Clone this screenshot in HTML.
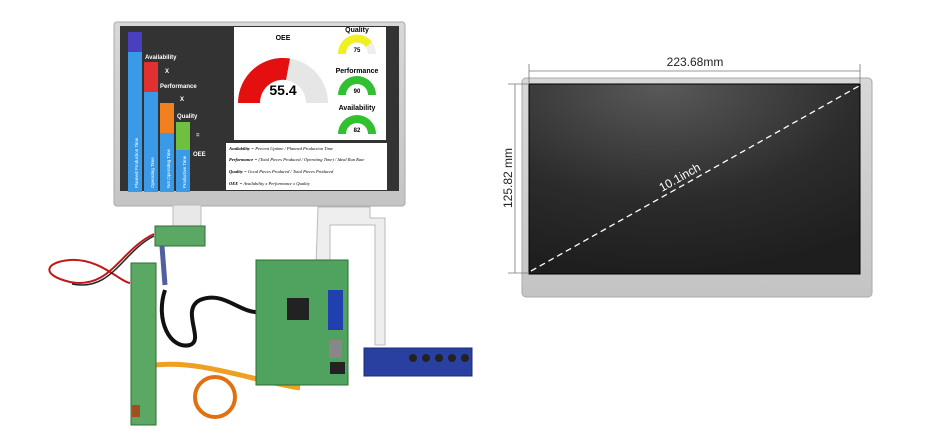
<!DOCTYPE html>
<html><head><meta charset="utf-8"><style>
html,body{margin:0;padding:0;background:#fff;}
svg{display:block;font-family:"Liberation Sans",sans-serif;}
</style></head><body>
<svg width="930" height="448" viewBox="0 0 930 448">
<defs>
<radialGradient id="scr" cx="0.4" cy="0" r="1"><stop offset="0" stop-color="#5a5a5a"/><stop offset="0.6" stop-color="#2c2c2c"/><stop offset="1" stop-color="#1e1e1e"/></radialGradient>
<linearGradient id="frm" x1="0" y1="0" x2="0" y2="1"><stop offset="0" stop-color="#d8d8d8"/><stop offset="1" stop-color="#c4c4c4"/></linearGradient>
</defs>
<!-- LEFT MONITOR -->
<rect x="114" y="22" width="291" height="184" rx="3" fill="url(#frm)" stroke="#aaa"/>
<rect x="120" y="26" width="279" height="165" fill="#333"/>
<rect x="234" y="27" width="152" height="113" fill="#fff"/>
<rect x="226" y="143" width="161" height="47" fill="#fff"/>
<!-- bars -->
<rect x="128" y="32" width="14" height="20" fill="#4a3fbf"/>
<rect x="128" y="52" width="14" height="140" fill="#3a9ae8"/>
<rect x="144" y="62" width="14" height="30" fill="#e03030"/>
<rect x="144" y="92" width="14" height="100" fill="#3a9ae8"/>
<rect x="160" y="103" width="14" height="30" fill="#f08020"/>
<rect x="160" y="133" width="14" height="59" fill="#3a9ae8"/>
<rect x="176" y="122" width="14" height="28" fill="#70c040"/>
<rect x="176" y="150" width="14" height="42" fill="#3a9ae8"/>
<g fill="#fff" font-size="4.5">
<text transform="translate(138,188) rotate(-90)">Planned Production Time</text>
<text transform="translate(154,188) rotate(-90)">Operating Time</text>
<text transform="translate(170,188) rotate(-90)">Net Operating Time</text>
<text transform="translate(186,188) rotate(-90)">Productive Time</text>
</g>
<g fill="#fff" font-size="6" font-weight="bold">
<text x="145" y="59">Availability</text><text x="165" y="73">X</text>
<text x="160" y="88">Performance</text><text x="180" y="101">X</text>
<text x="177" y="118">Quality</text><text x="196" y="137">=</text>
<text x="193" y="156">OEE</text></g>
<!-- OEE gauge -->
<text x="283" y="40" font-size="7" font-weight="bold" text-anchor="middle">OEE</text>
<path d="M238,103 A45,45 0 0 1 328,103 L306,103 A23,23 0 0 0 260,103 Z" fill="#e6e6e6"/>
<path d="M238,103 A45,45 0 0 1 290,58.5 L286,80 A23,23 0 0 0 260,103 Z" fill="#e41010"/>
<text x="283" y="95" font-size="14" font-weight="bold" text-anchor="middle">55.4</text>
<g font-size="7" font-weight="bold" text-anchor="middle">
<text x="357" y="32">Quality</text><text x="357" y="73">Performance</text><text x="357" y="110">Availability</text></g>
<path d="M338,54 A19,19 0 0 1 376,54 L368,54 A11,11 0 0 0 346,54Z" fill="#eee"/>
<path d="M338,54 A19,19 0 0 1 372,42 L366,47 A11,11 0 0 0 346,54Z" fill="#f0f020"/>
<path d="M338,95 A19,19 0 0 1 376,95 L368,95 A11,11 0 0 0 346,95Z" fill="#30c030"/>
<path d="M338,134 A19,19 0 0 1 376,134 L368,134 A11,11 0 0 0 346,134Z" fill="#30c030"/>
<g font-size="6" text-anchor="middle" font-weight="bold"><text x="357" y="52">75</text><text x="357" y="93">90</text><text x="357" y="132">82</text></g>
<g font-size="4.5" font-style="italic" font-family="Liberation Serif,serif">
<text x="229" y="150"><tspan font-weight="bold">Availability</tspan> = Percent Uptime / Planned Production Time</text>
<text x="229" y="161"><tspan font-weight="bold">Performance</tspan> = (Total Pieces Produced / Operating Time) / Ideal Run Rate</text>
<text x="229" y="173"><tspan font-weight="bold">Quality</tspan> = Good Pieces Produced / Total Pieces Produced</text>
<text x="229" y="185"><tspan font-weight="bold">OEE</tspan> = Availability x Performance x Quality</text></g>
<!-- ribbon cables -->
<rect x="173" y="205" width="28" height="22" fill="#e8e8e8" stroke="#bbb"/>
<path d="M318,207 L370,207 L370,218 L385,218 L385,345 L375,345 L375,225 L330,225 L330,265 L316,265 Z" fill="#eee" stroke="#bbb"/>
<!-- small adapter -->
<rect x="155" y="226" width="50" height="20" fill="#5aa864" stroke="#2e6e34"/>
<!-- wires -->
<path d="M154,234 C120,250 110,290 70,282 C40,275 45,262 70,260 C100,258 120,282 130,283" fill="none" stroke="#c01818" stroke-width="2"/>
<path d="M154,236 C122,252 112,292 72,284" fill="none" stroke="#222" stroke-width="1.5"/>
<path d="M162,246 L165,285" stroke="#5060a0" stroke-width="5"/>
<path d="M165,290 C155,320 170,350 190,345 C205,340 180,310 200,300 C225,290 240,315 262,312" fill="none" stroke="#111" stroke-width="4"/>
<path d="M155,365 C200,360 250,380 300,388" fill="none" stroke="#f0a020" stroke-width="5"/>
<circle cx="215" cy="397" r="20" fill="none" stroke="#e07010" stroke-width="4"/>
<!-- inverter board -->
<rect x="131" y="263" width="25" height="162" fill="#5aa864" stroke="#2e6e34"/>
<rect x="132" y="405" width="8" height="12" fill="#a05020"/>
<!-- main board -->
<rect x="256" y="260" width="92" height="125" fill="#4fa35e" stroke="#2e6e34"/>
<rect x="287" y="298" width="22" height="22" fill="#222"/>
<rect x="328" y="290" width="15" height="40" fill="#2040b0"/>
<rect x="329" y="340" width="13" height="18" fill="#888"/>
<rect x="330" y="362" width="15" height="12" fill="#222"/>
<!-- button board -->
<rect x="364" y="348" width="108" height="28" fill="#2a40a0" stroke="#1a2c70"/>
<g fill="#222"><circle cx="413" cy="358" r="4"/><circle cx="426" cy="358" r="4"/><circle cx="439" cy="358" r="4"/><circle cx="452" cy="358" r="4"/><circle cx="465" cy="358" r="4"/></g>
<!-- RIGHT MONITOR -->
<rect x="522" y="78" width="350" height="219" rx="4" fill="url(#frm)" stroke="#aaa"/>
<rect x="529" y="84" width="331" height="190" fill="url(#scr)" stroke="#000"/>
<line x1="531" y1="271" x2="859" y2="86" stroke="#fff" stroke-width="1.3" stroke-dasharray="6,4"/>
<text x="0" y="0" font-size="12" fill="#fff" transform="translate(662,192) rotate(-29.5)">10.1inch</text>
<g stroke="#777" stroke-width="0.8">
<line x1="529" y1="71" x2="860" y2="71"/>
<line x1="529" y1="64" x2="529" y2="84"/><line x1="860" y1="64" x2="860" y2="84"/>
<line x1="515" y1="84" x2="515" y2="273"/>
<line x1="508" y1="84" x2="529" y2="84"/><line x1="508" y1="273" x2="529" y2="273"/></g>
<text x="695" y="66" font-size="12" text-anchor="middle" fill="#222">223.68mm</text>
<text x="0" y="0" font-size="12" text-anchor="middle" fill="#222" transform="translate(512,178) rotate(-90)">125.82 mm</text>
</svg>
</body></html>
